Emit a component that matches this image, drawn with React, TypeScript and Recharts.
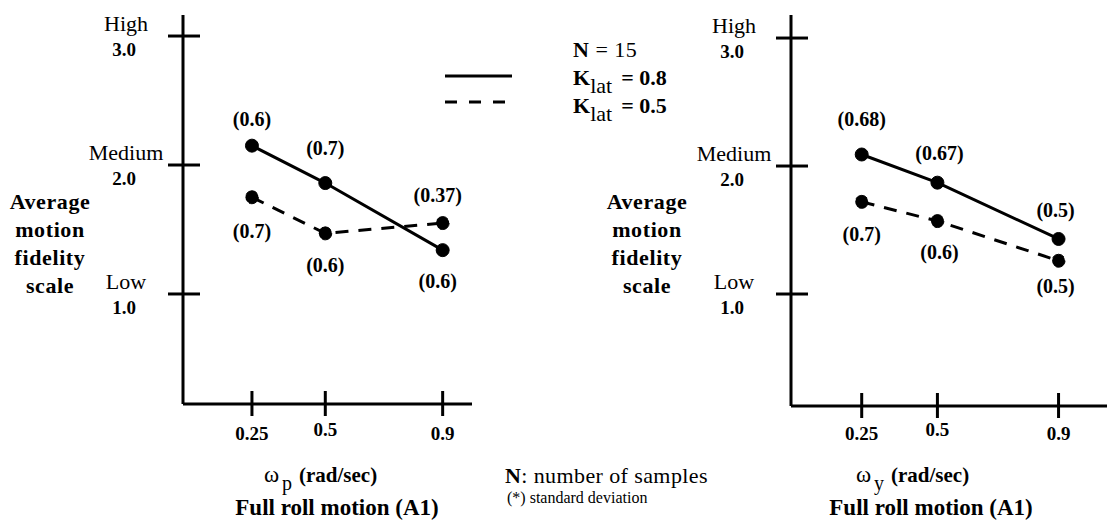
import { LabelList, Line, LineChart, XAxis, YAxis } from "recharts";

// x: rate (rad/sec), y: average motion fidelity rating
const rateTicks = [0.25, 0.5, 0.9];
const scaleTicks = [1, 2, 3];
const scaleWords = ["Low", "Medium", "High"];

const pitchK08 = [2.15, 1.86, 1.34];
const pitchK05 = [1.75, 1.47, 1.55];
const pitchK08Sd = ["(0.6)", "(0.7)", "(0.6)"];
const pitchK05Sd = ["(0.7)", "(0.6)", "(0.37)"];

const yawK08 = [2.09, 1.87, 1.43];
const yawK05 = [1.72, 1.57, 1.26];
const yawK08Sd = ["(0.68)", "(0.67)", "(0.5)"];
const yawK05Sd = ["(0.7)", "(0.6)", "(0.5)"];

const FONT = "Liberation Serif, Times New Roman, serif";

function rows(k08: number[], k05: number[], sd08: string[], sd05: string[]) {
  return rateTicks.map((rate, i) => ({
    rate,
    k08: k08[i],
    k05: k05[i],
    sd08: sd08[i],
    sd05: sd05[i],
  }));
}

const pitchRows = rows(pitchK08, pitchK05, pitchK08Sd, pitchK05Sd);
const yawRows = rows(yawK08, yawK05, yawK08Sd, yawK05Sd);

function ScaleTick(props: any) {
  const { x, y, payload } = props;
  const i = scaleTicks.indexOf(payload.value);
  return (
    <g style={{ fontFamily: FONT }} fill="#000">
      <line x1={x - 15} x2={x + 17} y1={y} y2={y} stroke="#000" strokeWidth={3} />
      <text x={x - 57} y={y - 5} textAnchor="middle" fontSize={22}>
        {scaleWords[i]}
      </text>
      <text x={x - 59} y={y + 20} textAnchor="middle" fontSize={19} fontWeight="bold">
        {payload.value.toFixed(1)}
      </text>
    </g>
  );
}

function RateTick(props: any) {
  const { x, y, payload } = props;
  return (
    <g style={{ fontFamily: FONT }}>
      <line x1={x} x2={x} y1={y - 13} y2={y + 12} stroke="#000" strokeWidth={3} />
      <text
        x={x}
        y={payload.value === 0.5 ? 436 : 440}
        textAnchor="middle"
        fontSize={19}
        fontWeight="bold"
      >
        {payload.value}
      </text>
    </g>
  );
}

function sdLabel(offsets: number[][]) {
  return (props: any) => {
    const { x, y, value, index } = props;
    const [dx, dy] = offsets[index];
    return (
      <text
        x={x + dx}
        y={y + dy + 7}
        textAnchor="middle"
        style={{ fontFamily: FONT }}
        fontSize={20}
        fontWeight="bold"
      >
        {value}
      </text>
    );
  };
}

function Panel(props: {
  data: any[];
  left: number;
  width: number;
  margin: any;
  xDomain: number[];
  yDomain: number[];
  off08: number[][];
  off05: number[][];
}) {
  const { data, left, width, margin, xDomain, yDomain, off08, off05 } = props;
  const dot = { r: 6.5, fill: "#000", stroke: "#000", strokeWidth: 1 };
  return (
    <div style={{ position: "absolute", left, top: 0 }}>
      <LineChart width={width} height={528} data={data} margin={margin}>
        <XAxis
          dataKey="rate"
          type="number"
          domain={xDomain}
          ticks={rateTicks}
          allowDataOverflow
          height={1}
          tickSize={0}
          tickMargin={0}
          tickLine={false}
          axisLine={{ stroke: "#000", strokeWidth: 3 }}
          tick={<RateTick />}
        />
        <YAxis
          type="number"
          domain={yDomain}
          ticks={scaleTicks}
          allowDataOverflow
          width={1}
          tickSize={0}
          tickMargin={0}
          tickLine={false}
          axisLine={{ stroke: "#000", strokeWidth: 3 }}
          tick={<ScaleTick />}
        />
        <Line
          dataKey="k08"
          type="linear"
          stroke="#000"
          strokeWidth={3}
          dot={dot}
          isAnimationActive={false}
        >
          <LabelList dataKey="sd08" content={sdLabel(off08)} />
        </Line>
        <Line
          dataKey="k05"
          type="linear"
          stroke="#000"
          strokeWidth={3}
          strokeDasharray="13 10"
          dot={dot}
          isAnimationActive={false}
        >
          <LabelList dataKey="sd05" content={sdLabel(off05)} />
        </Line>
      </LineChart>
    </div>
  );
}

function YTitle({ x }: { x: number }) {
  const words = ["Average", "motion", "fidelity", "scale"];
  return (
    <>
      {words.map((w, i) => (
        <text
          key={w}
          x={x}
          y={209 + i * 28}
          textAnchor="middle"
          fontSize={22}
          fontWeight="bold"
          letterSpacing={0.6}
        >
          {w}
        </text>
      ))}
    </>
  );
}

function RateTitle({ x, sub, cx }: { x: number; sub: string; cx: number }) {
  return (
    <>
      <text x={x} y={482} fontSize={23}>
        ω
      </text>
      <text x={x + 18} y={490} fontSize={20}>
        {sub}
      </text>
      <text x={x + 35} y={482} fontSize={21} fontWeight="bold">
        (rad/sec)
      </text>
      <text x={cx} y={515} fontSize={23} fontWeight="bold" textAnchor="middle">
        Full roll motion (A1)
      </text>
    </>
  );
}

export default function App() {
  return (
    <div
      style={{
        position: "absolute",
        left: 0,
        top: 0,
        width: 1107,
        height: 528,
        background: "#fff",
        fontFamily: FONT,
      }}
    >
      <Panel
        data={pitchRows}
        left={0}
        width={560}
        margin={{ top: 15, right: 88, bottom: 123, left: 182 }}
        xDomain={[0.015, 1.0]}
        yDomain={[0.147, 3.163]}
        off08={[[0, -27], [0, -35], [-5, 31]]}
        off05={[[0, 34], [0, 32], [-5, -28]]}
      />
      <Panel
        data={yawRows}
        left={560}
        width={547}
        margin={{ top: 15, right: 0, bottom: 121, left: 230 }}
        xDomain={[0.0165, 1.06]}
        yDomain={[0.125, 3.18]}
        off08={[[0, -36], [2, -30], [-3, -29]]}
        off05={[[0, 32], [2, 31], [-3, 25]]}
      />
      <svg
        width={1107}
        height={528}
        style={{ position: "absolute", left: 0, top: 0, pointerEvents: "none", fontFamily: FONT }}
      >
        <YTitle x={50} />
        <YTitle x={647} />

        {/* legend */}
        <line x1={445} x2={512} y1={76} y2={76} stroke="#000" strokeWidth={3} />
        <line x1={445} x2={512} y1={102} y2={102} stroke="#000" strokeWidth={3} strokeDasharray="12 12" />
        <text x={573} y={57} fontSize={22} letterSpacing={0.5}>
          <tspan fontWeight="bold">N</tspan> = 15
        </text>
        <text x={573} y={85} fontSize={22} fontWeight="bold">
          K<tspan fontWeight="normal" dy={8}>lat</tspan>
          <tspan dx={9} dy={-8}>= 0.8</tspan>
        </text>
        <text x={573} y={113} fontSize={22} fontWeight="bold">
          K<tspan fontWeight="normal" dy={8}>lat</tspan>
          <tspan dx={9} dy={-8}>= 0.5</tspan>
        </text>

        {/* bottom captions */}
        <RateTitle x={264} sub="p" cx={337} />
        <RateTitle x={856} sub="y" cx={931} />
        <text x={505} y={483} fontSize={22} letterSpacing={0.4}>
          <tspan fontWeight="bold">N</tspan>: number of samples
        </text>
        <text x={507} y={503} fontSize={16}>
          (*) standard deviation
        </text>
      </svg>
    </div>
  );
}
